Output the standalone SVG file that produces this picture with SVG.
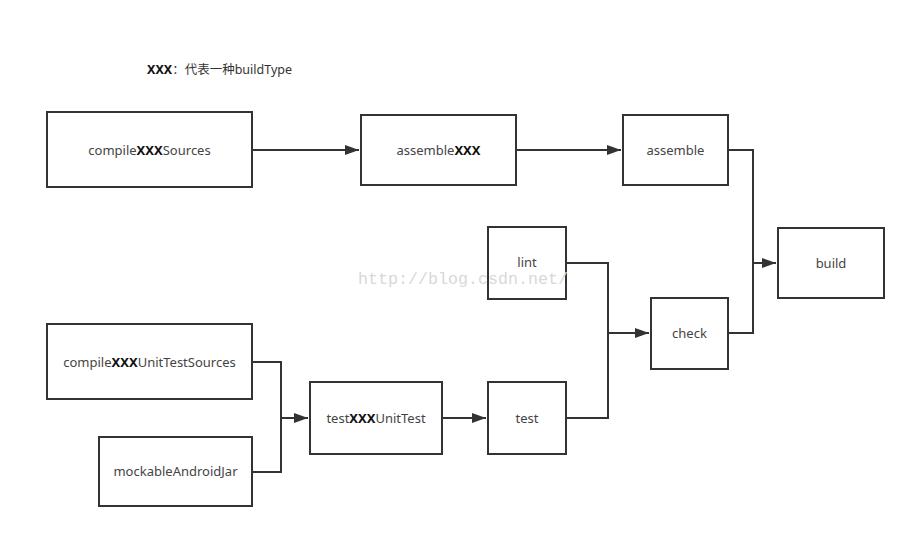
<svg xmlns="http://www.w3.org/2000/svg" width="914" height="538" viewBox="0 0 914 538">
<style>
.box{fill:#fff;stroke:#333;stroke-width:2}
.lbl{font-family:"Noto Sans","Liberation Sans",sans-serif;font-size:13px;fill:#444;text-anchor:middle}
.b{font-weight:bold;fill:#111}
.con{fill:none;stroke:#333;stroke-width:2}
</style>
<defs>
<marker id="arr" viewBox="0 0 14 10" refX="14" refY="5" markerWidth="14" markerHeight="10" markerUnits="userSpaceOnUse" orient="auto">
<path d="M0,0 L14,5 L0,10 z" fill="#333"/>
</marker>
</defs>
<rect width="914" height="538" fill="#fff"/>
<text x="147" y="74" font-family="Noto Sans,Liberation Sans,Noto Sans CJK SC,sans-serif" font-size="12.5" fill="#333"><tspan font-weight="bold" fill="#111">XXX</tspan>：代表一种buildType</text>
<g id="connectors">
<path class="con" d="M252,150 H359" marker-end="url(#arr)"/>
<path class="con" d="M516,150 H621" marker-end="url(#arr)"/>
<path class="con" d="M728,150 H753 V333 H728"/>
<path class="con" d="M753,263 H776" marker-end="url(#arr)"/>
<path class="con" d="M566,263 H608 V418 H566"/>
<path class="con" d="M608,333 H649" marker-end="url(#arr)"/>
<path class="con" d="M252,362 H281 V472 H252"/>
<path class="con" d="M281,418 H308" marker-end="url(#arr)"/>
<path class="con" d="M442,418 H486" marker-end="url(#arr)"/>
</g>
<g id="compileXXXSources"><rect class="box" x="47" y="112" width="205" height="75"/><text class="lbl" x="149.5" y="155">compile<tspan class="b">XXX</tspan>Sources</text></g>
<g id="assembleXXX"><rect class="box" x="361" y="115" width="155" height="70"/><text class="lbl" x="438.5" y="155">assemble<tspan class="b">XXX</tspan></text></g>
<g id="assemble"><rect class="box" x="623" y="115" width="105" height="70"/><text class="lbl" x="675.5" y="155">assemble</text></g>
<g id="lint"><rect class="box" x="488" y="227" width="78" height="72"/><text class="lbl" x="527" y="267">lint</text></g>
<g id="build"><rect class="box" x="778" y="228" width="106" height="70"/><text class="lbl" x="831" y="268">build</text></g>
<g id="check"><rect class="box" x="651" y="298" width="77" height="71"/><text class="lbl" x="689.5" y="338">check</text></g>
<g id="compileXXXUnitTestSources"><rect class="box" x="47" y="324" width="205" height="75"/><text class="lbl" x="149.5" y="367">compile<tspan class="b">XXX</tspan>UnitTestSources</text></g>
<g id="mockableAndroidJar"><rect class="box" x="99" y="437" width="153" height="69"/><text class="lbl" x="175.5" y="476">mockableAndroidJar</text></g>
<g id="testXXXUnitTest"><rect class="box" x="310" y="382" width="132" height="72"/><text class="lbl" x="376" y="423">test<tspan class="b">XXX</tspan>UnitTest</text></g>
<g id="test"><rect class="box" x="488" y="382" width="78" height="72"/><text class="lbl" x="527" y="423">test</text></g>
<text x="358" y="284" font-family="Liberation Mono,monospace" font-size="17" fill="#d8d8d8" textLength="210" lengthAdjust="spacingAndGlyphs">http://blog.csdn.net/</text>
</svg>
